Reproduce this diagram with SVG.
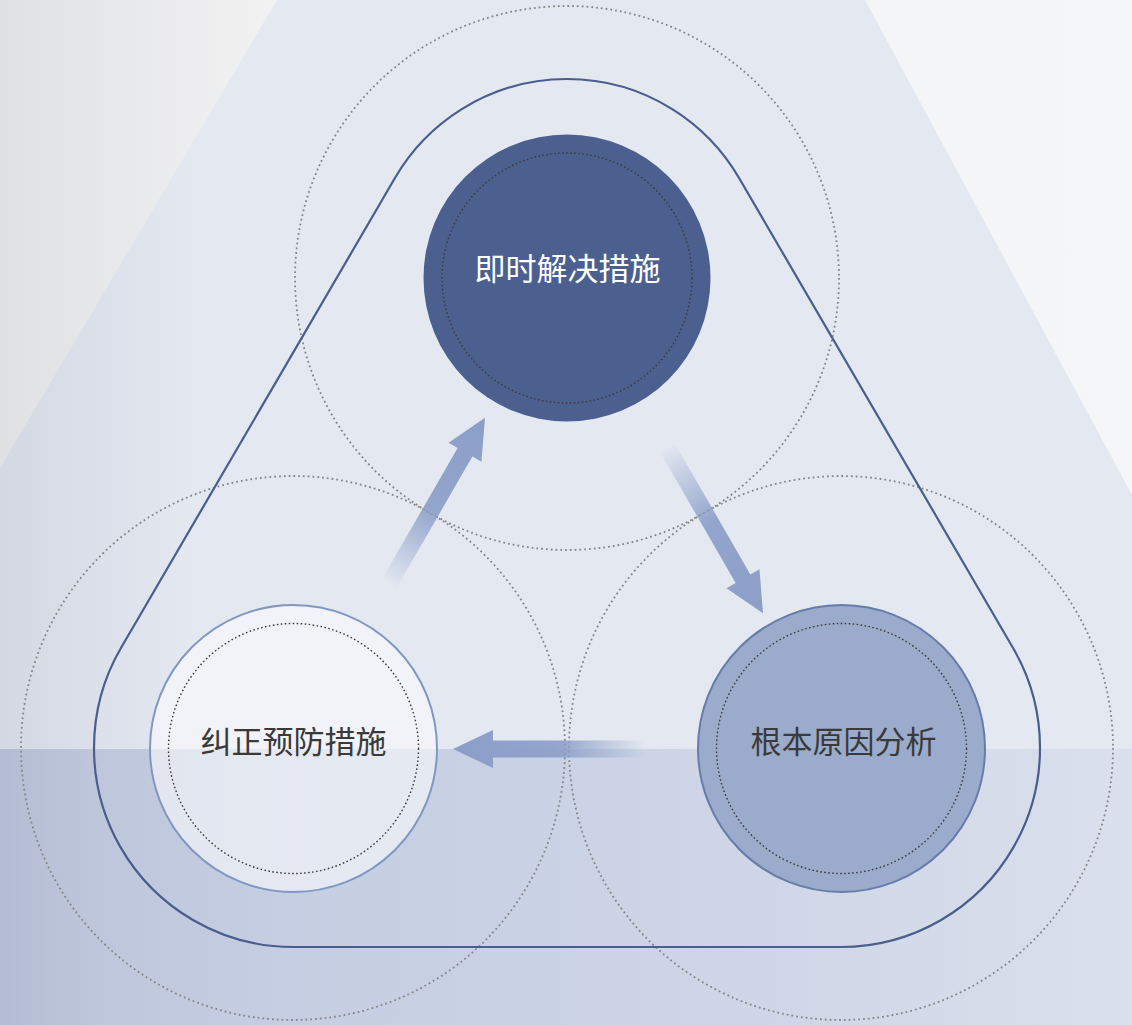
<svg xmlns="http://www.w3.org/2000/svg" width="1132" height="1025" viewBox="0 0 1132 1025">
  <defs>
    <linearGradient id="bgGrad" x1="0" y1="0" x2="1132" y2="0" gradientUnits="userSpaceOnUse">
      <stop offset="0" stop-color="#e0e1e3"/>
      <stop offset="0.24" stop-color="#f2f2f3"/>
      <stop offset="1" stop-color="#f5f6f8"/>
    </linearGradient>
    <linearGradient id="blueGrad" x1="0" y1="0" x2="1132" y2="0" gradientUnits="userSpaceOnUse">
      <stop offset="0" stop-color="#d3d8e3"/>
      <stop offset="0.17" stop-color="#e3e8f1"/>
      <stop offset="1" stop-color="#e3e8f1"/>
    </linearGradient>
    <linearGradient id="bandGrad" x1="0" y1="0" x2="1132" y2="0" gradientUnits="userSpaceOnUse">
      <stop offset="0" stop-color="#b3bcd2"/>
      <stop offset="0.08" stop-color="#bdc6db"/>
      <stop offset="0.25" stop-color="#c5cee2"/>
      <stop offset="0.5" stop-color="#cad2e5"/>
      <stop offset="0.75" stop-color="#d1d8e8"/>
      <stop offset="1" stop-color="#dae0ec"/>
    </linearGradient>
    <linearGradient id="arrowGrad" x1="0" y1="0" x2="1" y2="0">
      <stop offset="0" stop-color="#8b9ec8" stop-opacity="0"/>
      <stop offset="0.45" stop-color="#8b9ec8" stop-opacity="0.9"/>
      <stop offset="1" stop-color="#8b9ec8" stop-opacity="1"/>
    </linearGradient>
    <polygon id="arrowShape" points="0,-8.5 152,-8.5 152,-19 192,0 152,19 152,8.5 0,8.5"/>
  </defs>
  <style>
    .halo { fill: none; stroke: #858585; stroke-width: 1.8; stroke-dasharray: 1.8 3; }
    .inner { fill: none; stroke: #3a3a3a; stroke-width: 1.4; stroke-dasharray: 1.6 2.4; }
    .label { font-family: "Noto Sans CJK SC", "Noto Sans", sans-serif; font-size: 31px; text-anchor: middle; }
    .arrow { fill: url(#arrowGrad); }
  </style>

  <g id="background">
    <rect x="0" y="0" width="1132" height="1025" fill="url(#bgGrad)"/>
    <polygon points="277,0 865,0 1132,495 1132,1025 0,1025 0,468" fill="url(#blueGrad)"/>
    <rect x="0" y="749" width="1132" height="276" fill="url(#bandGrad)"/>
  </g>

  <g id="guides">
    <circle class="halo" cx="567" cy="278" r="272"/>
    <circle class="halo" cx="293" cy="748" r="272"/>
    <circle class="halo" cx="841" cy="748" r="272"/>
    <path d="M 395.08 177.78 A 199 199 0 0 1 738.92 177.78 L 1012.92 647.78 A 199 199 0 0 1 841 947 L 293 947 A 199 199 0 0 1 121.08 647.78 Z" fill="none" stroke="#4a5d8c" stroke-width="2.2"/>
  </g>

  <g id="connectors">
    <use href="#arrowShape" class="arrow" transform="translate(389,584) rotate(-60)"/>
    <use href="#arrowShape" class="arrow" transform="translate(667,447) rotate(60)"/>
    <use href="#arrowShape" class="arrow" transform="translate(645,749) rotate(180)"/>
  </g>

  <g id="node-immediate">
    <circle cx="567" cy="278" r="143.5" fill="#4b608e"/>
    <circle class="inner" cx="567" cy="278" r="125" stroke="#2e3b5a"/>
    <text class="label" x="567.5" y="279.5" fill="#ffffff">即时解决措施</text>
  </g>

  <g id="node-corrective">
    <circle cx="293.5" cy="748.5" r="143.5" fill="#fbfcfd" fill-opacity="0.58"/>
    <circle cx="293.5" cy="748.5" r="143.5" fill="none" stroke="#8197c2" stroke-width="2"/>
    <circle class="inner" cx="293.5" cy="748.5" r="125"/>
    <text class="label" x="293.5" y="752.5" fill="#3a3a3a">纠正预防措施</text>
  </g>

  <g id="node-rootcause">
    <circle cx="841.5" cy="748.5" r="143.5" fill="#9aabcb" stroke="#667dab" stroke-width="2"/>
    <circle class="inner" cx="841.5" cy="748.5" r="125"/>
    <text class="label" x="843.5" y="752.5" fill="#3a3a3a">根本原因分析</text>
  </g>
</svg>
